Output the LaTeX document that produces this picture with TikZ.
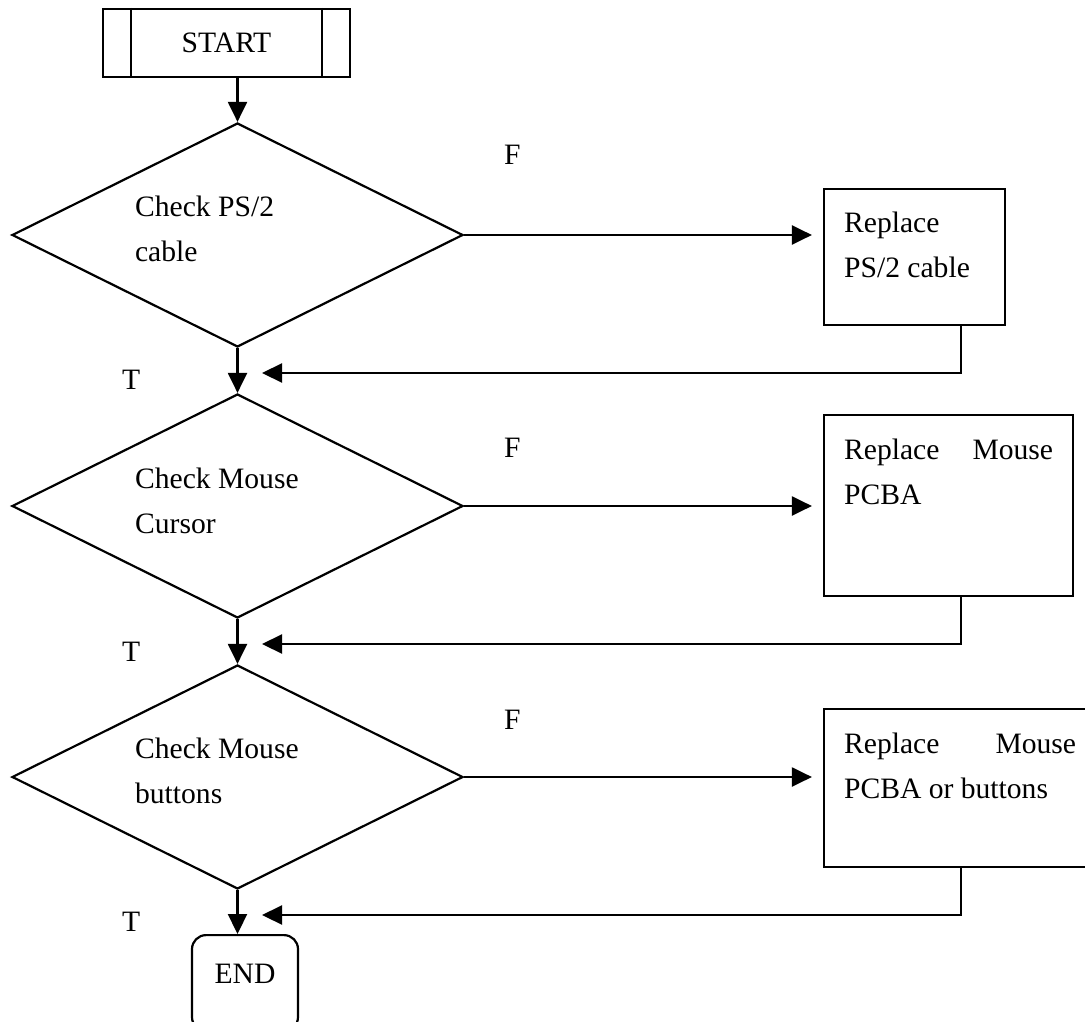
\documentclass[tikz,border=0pt]{standalone}
\usepackage{fontspec}
\setmainfont{Liberation Serif}
\usetikzlibrary{shapes.geometric,arrows.meta}

\begin{document}
\begin{tikzpicture}[x=0.5pt, y=-0.5pt, line width=1.1pt,
	every node/.style={font=\fontsize{14.8pt}{22.5pt}\selectfont},
	arr/.style={-{Triangle[length=10pt,width=9.5pt]}},
	cond/.style={draw, diamond, inner sep=0pt, minimum width=225.5pt, minimum height=112pt},
	act/.style={draw, rectangle, inner sep=0pt},
	txt/.style={anchor=base west, inner sep=0pt, align=flush left, text width=#1},
	txt/.default=100pt]
				\useasboundingbox (0,0) rectangle (1085,1021);
				\node[act, minimum width=123.5pt, minimum height=34pt] (S) at (226.5,43) {START};
				\draw ([xshift=14.5pt]S.north west) -- ([xshift=14.5pt]S.south west);
				\draw ([xshift=-14.5pt]S.north east) -- ([xshift=-14.5pt]S.south east);
				\node[cond] (Q1) at (237.5,235) {};
				\node[cond] (Q2) at (237.5,506) {};
				\node[cond] (Q3) at (237.5,777) {};
				\node[txt] (Q1x) at (134,217) {Check PS/2\\cable};
				\node[txt] (Q2x) at (134,488) {Check Mouse\\Cursor};
				\node[txt] (Q3x) at (134,758) {Check Mouse\\buttons};
				\node[act, minimum width=90.5pt, minimum height=68pt] (R1) at (914.5,257) {};
				\node[act, minimum width=124.5pt, minimum height=90.5pt] (R2) at (948.5,505.5) {};
				\node[act, minimum width=135.5pt, minimum height=79pt] (R3) at (959.5,788) {};
				\node[txt=90pt] (R1x) at (843,233) {Replace\\PS/2 cable};
				\node[txt=120pt] (R2x) at (843,459) {\makebox[104.5pt][s]{Replace Mouse}\\PCBA};
				\node[txt=130pt] (R3x) at (843,753) {\makebox[116pt][s]{Replace Mouse}\\PCBA or buttons};
				\node[draw, rounded corners=7pt, minimum width=53pt, text height=9pt, text depth=9pt, inner ysep=15pt, anchor=north] (E) at (245,934) {END};
				\node[txt=20pt] (F1) at (503,165) {F};
				\node[txt=20pt] (F2) at (503,457) {F};
				\node[txt=20pt] (F3) at (503,729) {F};
				\node[txt=20pt] (T1) at (121,389) {T};
				\node[txt=20pt] (T2) at (121,661) {T};
				\node[txt=20pt] (T3) at (121,931) {T};
				\coordinate (B1) at (961,373);
				\coordinate (B2) at (961,644);
				\coordinate (B3) at (961,915);
				\coordinate (D1) at (262,373);
				\coordinate (D2) at (262,644);
				\coordinate (D3) at (262,915);
				\draw[arr] (S.south -| Q1.north) -- (Q1.north);
				\draw[arr] (Q1.south) -- (Q2.north);
				\draw[arr] (Q2.south) -- (Q3.north);
				\draw[arr] (Q3.south) -- (Q3.south |- E.north);
				\draw[arr, shorten >=5.5pt] (Q1.east) -- (Q1.east -| R1.west);
				\draw[arr, shorten >=5.5pt] (Q2.east) -- (Q2.east -| R2.west);
				\draw[arr, shorten >=5.5pt] (Q3.east) -- (Q3.east -| R3.west);
				\draw[arr] (R1.south -| B1) |- (D1);
				\draw[arr] (R2.south -| B2) |- (D2);
				\draw[arr] (R3.south -| B3) |- (D3);
			\end{tikzpicture}
\end{document}
